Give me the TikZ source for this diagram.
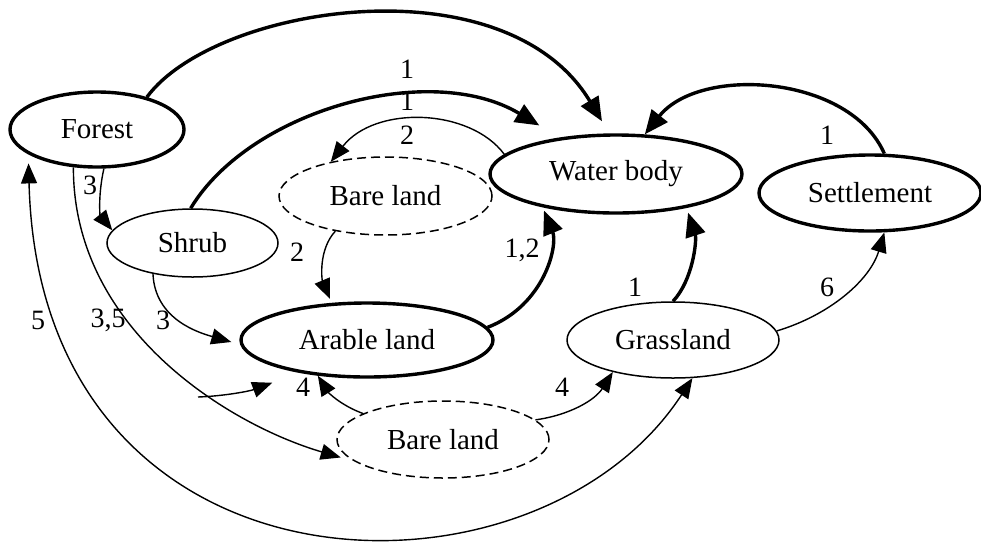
\documentclass[tikz,border=0pt]{standalone}
\usepackage{fontspec}
\setmainfont{Liberation Serif}
\usetikzlibrary{arrows.meta,shapes.geometric}
\begin{document}
\begin{tikzpicture}[x=1pt,y=-1pt,
  font=\fontsize{29}{34}\selectfont,
  land/.style={ellipse, draw, inner sep=0pt, line width=1.5pt},
  major/.style={land, line width=3.4pt},
  bare/.style={land, dash pattern=on 9pt off 5pt},
  flow/.style={line width=1.4pt, -{Triangle[length=20pt,width=16pt]}},
  flowboth/.style={line width=1.4pt, {Triangle[length=20pt,width=16pt]}-{Triangle[length=20pt,width=16pt]}},
  bigflow/.style={line width=3.4pt, -{Triangle[length=24pt,width=20pt]}},
  num/.style={inner sep=0pt, font=\fontsize{28}{30}\selectfont}
]
\useasboundingbox (0,0) rectangle (981,542);

% land-cover classes
\node[major, minimum width=174pt, minimum height=75pt] (forest) at (97,129.5) {Forest};
\node[land,  minimum width=171pt, minimum height=68pt] (shrub)  at (192.5,243) {Shrub};
\node[bare,  minimum width=213pt, minimum height=78pt] (bareT)  at (385.5,196) {Bare land};
\node[major, minimum width=252pt, minimum height=78pt] (water)  at (616,174) {Water body};
\node[major, minimum width=222pt, minimum height=76pt] (settle) at (870,193) {Settlement};
\node[major, minimum width=252pt, minimum height=74pt] (arable) at (367,340) {Arable land};
\node[land,  minimum width=212pt, minimum height=76pt] (grass)  at (673,340) {Grassland};
\node[bare,  minimum width=212pt, minimum height=77pt] (bareB)  at (443,439.5) {Bare land};

% conversions
\draw[bigflow] (forest.33) .. controls (215,5) and (505,-40) .. ([xshift=-14pt,yshift=12pt]water.north);
\draw[bigflow] (shrub.93) .. controls (250,110) and (430,60) .. ([yshift=16pt]water.157);
\draw[flow] (water.170) .. controls (470,108) and (375,105) .. (bareT.148);
\draw[flow] (forest.-80) .. controls (98,195) and (100,215) .. (shrub.171);
\draw[flow] (shrub.-142) .. controls (155,320) and (200,333) .. ([xshift=-8pt,yshift=-2pt]arable.west);
\draw[flow] (bareT.-145) .. controls (318,250) and (322,280) .. ([yshift=4pt]arable.135);
\draw[bigflow] (arable.6) .. controls (545,305) and (558,245) .. ([yshift=-3pt]water.-155);
\draw[bigflow] (grass.90) .. controls (693,280) and (697,240) .. ([yshift=-5pt]water.-25);
\draw[bigflow] (settle.70) .. controls (850,75) and (700,65) .. (water.54);
\draw[flow] (grass.5) .. controls (830,315) and (870,280) .. (settle.-70);
\draw[flow] (bareB.12) .. controls (570,415) and (595,400) .. (grass.-152);
\draw[flow] (bareB.162) .. controls (340,405) and (328,392) .. (arable.-144);
\draw[flow] (forest.-122) .. controls (73,330) and (230,425) .. ([xshift=-6pt,yshift=-1pt]bareB.-170);
\draw[flowboth] ([yshift=-9pt]forest.-160) .. controls (40,610) and (535,620) .. (grass.-63);
\coordinate (loose) at (198,397);
\draw[flow] (loose) .. controls (225,396) and (250,391) .. ([xshift=-13pt,yshift=-13pt]arable.-160);

% scenario numbers
\node[num] (n1) at (407,69) {1};
\node[num] (n2) at (407,101) {1};
\node[num] (n3) at (407,135) {2};
\node[num] (n4) at (90,185) {3};
\node[num] (n5) at (297,252) {2};
\node[num] (n6) at (522,250) {1,2};
\node[num] (n7) at (827,135) {1};
\node[num] (n8) at (635,287) {1};
\node[num] (n9) at (827,287) {6};
\node[num] (n10) at (562,387) {4};
\node[num] (n11) at (303,387) {4};
\node[num] (n12) at (38,320) {5};
\node[num] (n13) at (108,320) {3,5};
\node[num] (n14) at (163,320) {3};
\end{tikzpicture}
\end{document}
